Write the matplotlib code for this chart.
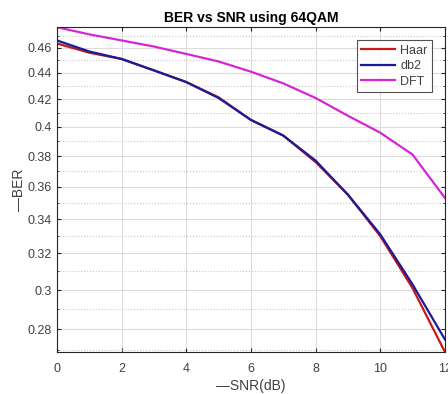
import numpy as np
import matplotlib
matplotlib.use("Agg")
import matplotlib.pyplot as plt
from matplotlib.ticker import FixedLocator, FixedFormatter, NullFormatter

plt.rcParams['font.family'] = ['Liberation Sans', 'DejaVu Sans']

# data
snr = [0, 1, 2, 3, 4, 5, 6, 7, 8, 9, 10, 11, 12]
ber_haar = [0.4635, 0.456, 0.451, 0.442, 0.433, 0.4215, 0.405, 0.394, 0.376, 0.355, 0.330, 0.301, 0.269]
ber_db2 = [0.466, 0.457, 0.451, 0.442, 0.433, 0.421, 0.405, 0.394, 0.377, 0.355, 0.331, 0.303, 0.275]
ber_dft = [0.477, 0.471, 0.466, 0.461, 0.455, 0.449, 0.441, 0.432, 0.421, 0.408, 0.396, 0.381, 0.353]

y_major = [0.28, 0.30, 0.32, 0.34, 0.36, 0.38, 0.40, 0.42, 0.44, 0.46]
y_labels = ["0.28", "0.3", "0.32", "0.34", "0.36", "0.38", "0.4", "0.42", "0.44", "0.46"]
y_minor = [0.27, 0.29, 0.31, 0.33, 0.35, 0.37, 0.39, 0.41, 0.43, 0.45, 0.47]

fig = plt.figure(figsize=(4.48, 3.94), dpi=100)
ax = fig.add_axes([0.127, 0.107, 0.866, 0.824])

ax.plot(snr, ber_haar, color='#c81818', lw=1.6, label='Haar')
ax.plot(snr, ber_db2, color='#1a1a9a', lw=1.6, label='db2')
ax.plot(snr, ber_dft, color='#d426d4', lw=1.6, label='DFT')

ax.set_yscale('log')
ax.set_xlim(0, 12)
ax.set_ylim(min(ber_haar), max(ber_dft))
ax.set_xticks([0, 2, 4, 6, 8, 10, 12])
ax.yaxis.set_major_locator(FixedLocator(y_major))
ax.yaxis.set_major_formatter(FixedFormatter(y_labels))
ax.yaxis.set_minor_locator(FixedLocator(y_minor))
ax.yaxis.set_minor_formatter(NullFormatter())

ax.grid(True, which='major', color='#dcdcdc', lw=0.8, ls='-')
ax.grid(True, which='minor', axis='y', color='#c8c8c8', lw=0.8, ls=':')
ax.set_axisbelow(True)

ax.tick_params(which='both', direction='in', top=True, right=True, colors='#262626',
               labelcolor='#404040', labelsize=9)
ax.tick_params(which='major', length=3)
ax.tick_params(which='minor', length=1.5)
ax.tick_params(axis='x', pad=8)
for s in ax.spines.values():
    s.set_color('#262626')
    s.set_linewidth(0.8)

ax.set_title('BER vs SNR using 64QAM', fontsize=10, fontweight='bold', pad=4)
ax.set_xlabel('\u2014SNR(dB)', fontsize=10, color='#404040', labelpad=3)
ax.set_ylabel('\u2014BER', fontsize=10, color='#404040', labelpad=1)

leg = ax.legend(loc='upper right', fontsize=9, frameon=True, fancybox=False,
                edgecolor='#262626', handlelength=2.7, handletextpad=0.4,
                borderpad=0.35, labelspacing=0.28, borderaxespad=0,
                bbox_to_anchor=(0.966, 0.96))
leg.get_frame().set_linewidth(0.8)
for t in leg.get_texts():
    t.set_color('#404040')

fig.savefig('out.png', dpi=100)
